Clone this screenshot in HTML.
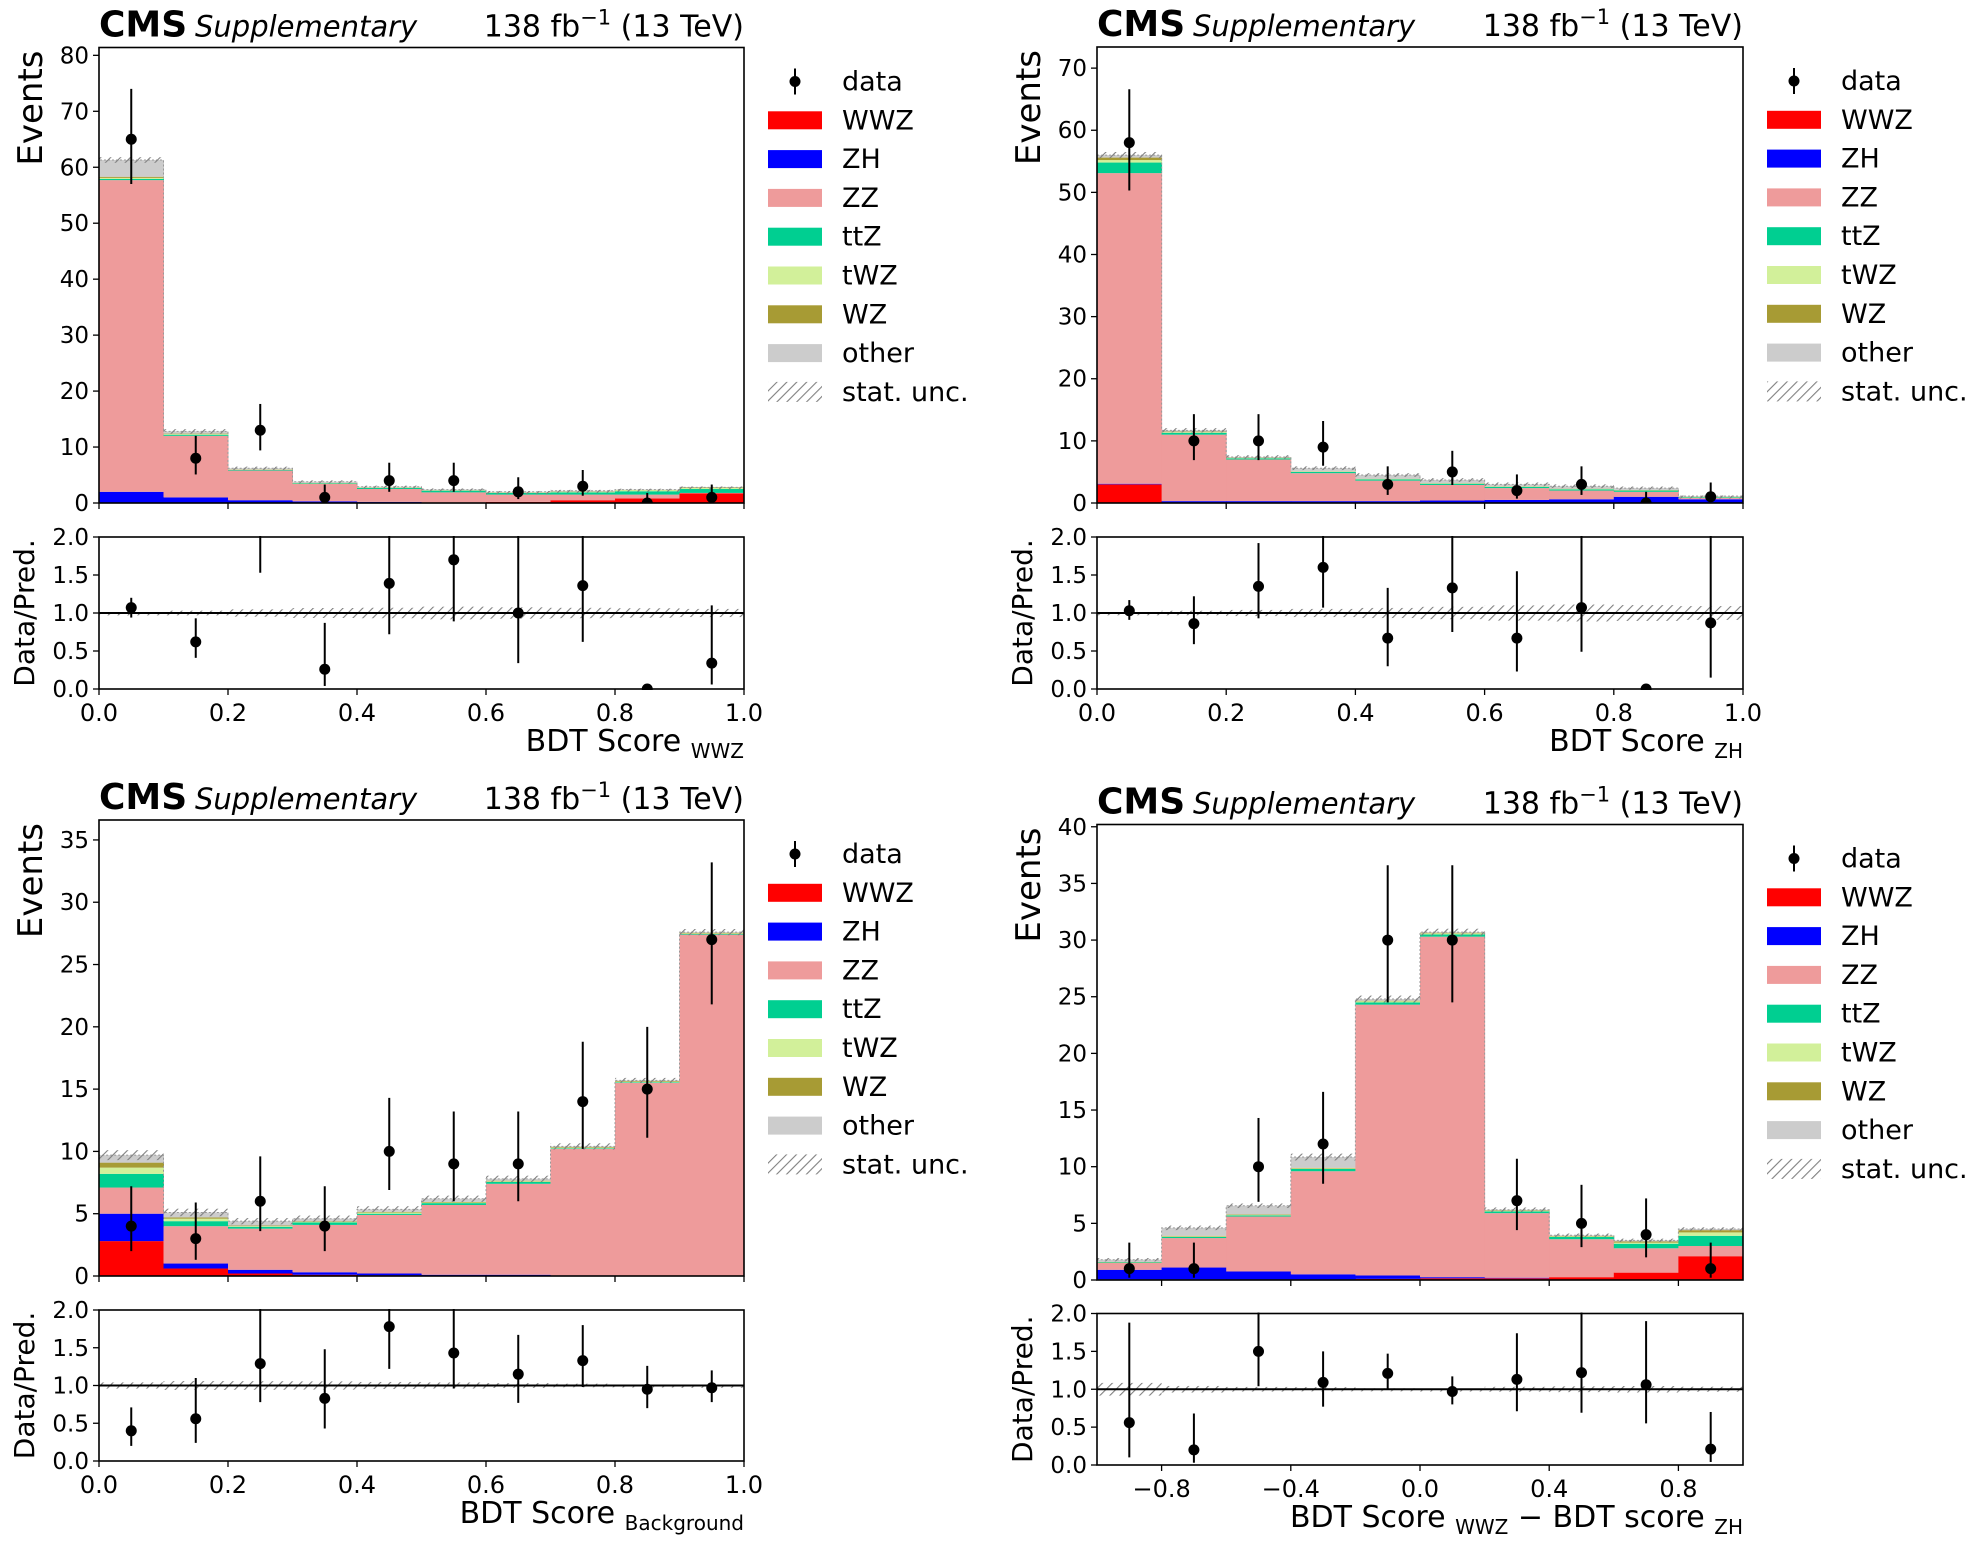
<!DOCTYPE html>
<html><head><meta charset="utf-8"><style>
html,body{margin:0;padding:0;background:#fff;}
svg{display:block;}
text{font-family:"DejaVu Sans","Liberation Sans",sans-serif;fill:#000;}
</style></head><body>
<svg id="fig" width="1982" height="1544" viewBox="0 0 1982 1544" xmlns="http://www.w3.org/2000/svg">
<defs>
<pattern id="hatch" patternUnits="userSpaceOnUse" width="7" height="7" patternTransform="rotate(45)">
<line x1="0" y1="0" x2="0" y2="7" stroke="#808080" stroke-width="2.2"/>
</pattern>
</defs>
</svg>
<script>
// ---------- data ----------
const procNames = ["WWZ","ZH","ZZ","ttZ","tWZ","WZ","other"];
const procColors = ["#ff0000","#0000ff","#ee9b9b","#00cf91","#d2f09a","#a79b34","#cccccc"];

// Panel A: BDT score WWZ
const aWWZ = [0,0,0,0,0.1,0.1,0.2,0.5,0.8,1.7];
const aZH = [2,1,0.5,0.3,0.1,0,0,0,0,0];
const aZZ = [55.7,11,5.3,3.1,2.3,1.8,1.3,1.0,0.7,0.1];
const attZ = [0.2,0.2,0.1,0.1,0.2,0.3,0.3,0.4,0.6,0.7];
const atWZ = [0.2,0.1,0.05,0.05,0.05,0.05,0.05,0.1,0.2,0.2];
const aWZ = [0.2,0.1,0.05,0.05,0.05,0.05,0.05,0.05,0.05,0.1];
const aOther = [3.0,0.4,0.2,0.2,0.1,0.1,0.1,0.15,0.05,0.0];
const aUnc = [0.5,0.4,0.3,0.25,0.2,0.2,0.15,0.15,0.15,0.15];
const aData = [65,8,13,1,4,4,2,3,0,1];
const aDataLo = [57,5.1,9.4,0.2,2,2,0.7,1.3,0,0.2];
const aDataHi = [74,12,17.7,3.3,7.2,7.2,4.6,5.9,1.8,3.3];
const aRatio = [1.07,0.62,2.13,0.26,1.39,1.70,1.0,1.36,0,0.34];
const aRatioLo = [0.94,0.41,1.53,0.04,0.72,0.89,0.34,0.62,0,0.06];
const aRatioHi = [1.2,0.93,2.8,0.87,2.4,2.9,2.3,2.6,0,1.1];
const aYTicks = [0,10,20,30,40,50,60,70,80];

// Panel B: BDT score ZH
const bWWZ = [3.0,0,0,0,0,0,0,0,0,0];
const bZH = [0.1,0.3,0.3,0.3,0.3,0.4,0.5,0.6,1.0,0.6];
const bZZ = [50,10.7,6.7,4.5,3.3,2.5,1.9,1.4,0.8,0.2];
const bttZ = [1.7,0.3,0.2,0.2,0.2,0.2,0.2,0.2,0.2,0.1];
const btWZ = [0.4,0.1,0.05,0.05,0.05,0.05,0.05,0.05,0.05,0.05];
const bWZ = [0.4,0.1,0.05,0.05,0.05,0.05,0.05,0.05,0.05,0.05];
const bOther = [0.4,0.2,0.1,0.5,0.6,0.5,0.3,0.4,0.3,0.1];
const bUnc = [0.5,0.35,0.3,0.3,0.3,0.3,0.3,0.3,0.25,0.1];
const bData = [58,10,10,9,3,5,2,3,0,1];
const bDataLo = [50.3,6.9,6.9,6,1.3,2.9,0.7,1.3,0,0.2];
const bDataHi = [66.6,14.3,14.3,13.2,5.9,8.4,4.6,5.9,1.8,3.3];
const bRatio = [1.03,0.86,1.35,1.6,0.67,1.33,0.67,1.07,0,0.87];
const bRatioLo = [0.91,0.59,0.93,1.07,0.3,0.75,0.23,0.49,0,0.15];
const bRatioHi = [1.17,1.22,1.92,2.3,1.33,2.2,1.55,2.1,0,2.9];
const bYTicks = [0,10,20,30,40,50,60,70];

// Panel C: BDT score Background
const cWWZ = [2.8,0.6,0.2,0.1,0.05,0,0,0,0,0];
const cZH = [2.2,0.4,0.3,0.2,0.15,0.1,0.1,0.05,0,0];
const cZZ = [2.1,3.0,3.3,3.8,4.7,5.6,7.3,10.15,15.5,27.4];
const cttZ = [1.1,0.4,0.15,0.2,0.1,0.15,0.15,0.05,0.05,0.05];
const ctWZ = [0.5,0.2,0.05,0.05,0.1,0.05,0.05,0.05,0.05,0.05];
const cWZ = [0.4,0.1,0.05,0.05,0.05,0.05,0.05,0.05,0.05,0.05];
const cOther = [0.6,0.4,0.35,0.2,0.2,0.25,0.15,0.05,0.05,0.05];
const cUnc = [0.4,0.3,0.25,0.25,0.25,0.25,0.25,0.25,0.2,0.25];
const cData = [4,3,6,4,10,9,9,14,15,27];
const cDataLo = [2,1.3,3.6,2,6.9,6,6,10.2,11.1,21.8];
const cDataHi = [7.2,5.9,9.6,7.2,14.3,13.2,13.2,18.8,20,33.2];
const cRatio = [0.4,0.56,1.29,0.83,1.78,1.43,1.15,1.33,0.95,0.97];
const cRatioLo = [0.2,0.24,0.78,0.43,1.22,0.96,0.77,0.98,0.7,0.78];
const cRatioHi = [0.71,1.1,2.05,1.48,2.5,2.1,1.67,1.8,1.26,1.2];
const cYTicks = [0,5,10,15,20,25,30,35];

// Panel D: BDT WWZ - BDT ZH
const dWWZ = [0.05,0.05,0.05,0.05,0.1,0.15,0.15,0.25,0.65,2.1];
const dZH = [0.85,1.05,0.7,0.45,0.3,0.1,0.05,0,0,0];
const dZZ = [0.6,2.6,4.85,9.1,23.9,30.05,5.7,3.35,2.15,0.9];
const dttZ = [0.05,0.1,0.1,0.2,0.2,0.2,0.15,0.2,0.4,0.9];
const dtWZ = [0.02,0.05,0.05,0.05,0.1,0.1,0.05,0.05,0.1,0.3];
const dWZ = [0.02,0.05,0.05,0.05,0.05,0.05,0.05,0.05,0.1,0.2];
const dOther = [0.2,0.7,0.75,0.95,0.15,0.05,0.05,0.05,0.1,0.1];
const dUnc = [0.15,0.2,0.2,0.3,0.3,0.3,0.2,0.15,0.15,0.15];
const dData = [1,1,10,12,30,30,7,5,4,1];
const dDataLo = [0.2,0.2,6.9,8.5,24.5,24.5,4.4,2.9,2,0.2];
const dDataHi = [3.3,3.3,14.3,16.6,36.6,36.6,10.7,8.4,7.2,3.3];
const dRatio = [0.56,0.2,1.5,1.09,1.21,0.97,1.13,1.22,1.06,0.21];
const dRatioLo = [0.1,0.03,1.04,0.77,1.0,0.8,0.71,0.69,0.55,0.04];
const dRatioHi = [1.88,0.68,2.1,1.5,1.47,1.17,1.74,2.05,1.9,0.7];
const dYTicks = [0,5,10,15,20,25,30,35,40];

const xTicks01 = [0.0,0.2,0.4,0.6,0.8,1.0];
const xTickLabels01 = ["0.0","0.2","0.4","0.6","0.8","1.0"];
const xTicksDiff = [-0.8,-0.4,0.0,0.4,0.8];
const xTickLabelsDiff = ["\u22120.8","\u22120.4","0.0","0.4","0.8"];
const ratioTicks = [0,0.5,1,1.5,2];
const ratioTickLabels = ["0.0","0.5","1.0","1.5","2.0"];

// ---------- drawing ----------
const NS = "http://www.w3.org/2000/svg";
const svg = document.getElementById("fig");
function mk(parent, tag, attrs, name, inter) {
  const el = document.createElementNS(NS, tag);
  for (const k in attrs) el.setAttribute(k, attrs[k]);
  
  
  parent.appendChild(el);
  return el;
}

const panels = [
  {id:"wwz", x0:99, x1:744, yt:47.5, yb:503, rt:537, rb:689, xmin:0, xmax:1, ymax:81.4, yTicks:aYTicks,
   comps:[aWWZ,aZH,aZZ,attZ,atWZ,aWZ,aOther], unc:aUnc, data:aData, lo:aDataLo, hi:aDataHi,
   ratio:aRatio, rlo:aRatioLo, rhi:aRatioHi, xt:xTicks01, xtl:xTickLabels01, xlabel:"BDT Score ", xsub:"WWZ"},
  {id:"zh", x0:1097, x1:1743, yt:47, yb:503, rt:537, rb:689, xmin:0, xmax:1, ymax:73.4, yTicks:bYTicks,
   comps:[bWWZ,bZH,bZZ,bttZ,btWZ,bWZ,bOther], unc:bUnc, data:bData, lo:bDataLo, hi:bDataHi,
   ratio:bRatio, rlo:bRatioLo, rhi:bRatioHi, xt:xTicks01, xtl:xTickLabels01, xlabel:"BDT Score ", xsub:"ZH"},
  {id:"background", x0:99, x1:744, yt:820, yb:1276, rt:1310, rb:1461, xmin:0, xmax:1, ymax:36.6, yTicks:cYTicks,
   comps:[cWWZ,cZH,cZZ,cttZ,ctWZ,cWZ,cOther], unc:cUnc, data:cData, lo:cDataLo, hi:cDataHi,
   ratio:cRatio, rlo:cRatioLo, rhi:cRatioHi, xt:xTicks01, xtl:xTickLabels01, xlabel:"BDT Score ", xsub:"Background"},
  {id:"diff", x0:1097, x1:1743, yt:824.5, yb:1280, rt:1313.5, rb:1465, xmin:-1, xmax:1, ymax:40.2, yTicks:dYTicks,
   comps:[dWWZ,dZH,dZZ,dttZ,dtWZ,dWZ,dOther], unc:dUnc, data:dData, lo:dDataLo, hi:dDataHi,
   ratio:dRatio, rlo:dRatioLo, rhi:dRatioHi, xt:xTicksDiff, xtl:xTickLabelsDiff, xlabel:"BDT Score ", xsub:"WWZ", xlabel2:"  \u2212  BDT score ", xsub2:"ZH"}
];

panels.forEach((P, pi) => {
  const g = mk(svg, "g", {}, "panel-" + P.id, false);
  const n = P.data.length;
  const sx = v => P.x0 + (v - P.xmin) / (P.xmax - P.xmin) * (P.x1 - P.x0);
  const sy = v => P.yb - v / P.ymax * (P.yb - P.yt);
  const ry = v => P.rb - v / 2 * (P.rb - P.rt);
  const bw = (P.xmax - P.xmin) / n;

  const clipM = mk(svg.querySelector("defs"), "clipPath", {id:"cm"+pi}, "main-clip", false);
  mk(clipM, "rect", {x:P.x0, y:P.yt, width:P.x1-P.x0, height:P.yb-P.yt}, "main-clip-rect", false);
  const clipR = mk(svg.querySelector("defs"), "clipPath", {id:"cr"+pi}, "ratio-clip", false);
  mk(clipR, "rect", {x:P.x0, y:P.rt-1, width:P.x1-P.x0, height:P.rb-P.rt+2}, "ratio-clip-rect", false);

  // main stack
  const gm = mk(g, "g", {"clip-path":"url(#cm"+pi+")"}, "main-plot-area", false);
  const totals = [];
  for (let i = 0; i < n; i++) {
    let cum = 0;
    const xa = sx(P.xmin + i*bw), xb = sx(P.xmin + (i+1)*bw);
    for (let k = 0; k < P.comps.length; k++) {
      const h = P.comps[k][i];
      if (h > 0) {
        mk(gm, "rect", {x:xa, y:sy(cum+h), width:xb-xa+0.5, height:sy(cum)-sy(cum+h), fill:procColors[k]}, "stack-" + procNames[k] + "-bin" + (i+1), false);
      }
      cum += h;
    }
    totals.push(cum);
  }
  let d = "M" + sx(P.xmin) + "," + sy(0);
  for (let i = 0; i < n; i++) {
    d += " L" + sx(P.xmin+i*bw) + "," + sy(totals[i]) + " L" + sx(P.xmin+(i+1)*bw) + "," + sy(totals[i]);
  }
  d += " L" + sx(P.xmax) + "," + sy(0);
  mk(gm, "path", {d:d, fill:"none", stroke:"#999", "stroke-width":1, "stroke-dasharray":"2,2"}, "stack-outline", false);
  for (let i = 0; i < n; i++) {
    const xa = sx(P.xmin + i*bw), xb = sx(P.xmin + (i+1)*bw);
    mk(gm, "rect", {x:xa, y:sy(totals[i]+P.unc[i]), width:xb-xa, height:Math.max(3, sy(totals[i]-P.unc[i])-sy(totals[i]+P.unc[i])), fill:"url(#hatch)"}, "stat-unc-bin" + (i+1), false);
  }
  for (let i = 0; i < n; i++) {
    const cx = sx(P.xmin + (i+0.5)*bw);
    mk(gm, "line", {x1:cx, x2:cx, y1:sy(P.lo[i]), y2:sy(P.hi[i]), stroke:"#000", "stroke-width":2}, "data-errorbar-bin" + (i+1), false);
    mk(gm, "circle", {cx:cx, cy:sy(P.data[i]), r:5.5, fill:"#000"}, "data-point-bin" + (i+1), false);
  }
  mk(g, "rect", {x:P.x0, y:P.yt, width:P.x1-P.x0, height:P.yb-P.yt, fill:"none", stroke:"#000", "stroke-width":1.6}, "main-axes-frame", false);
  P.yTicks.forEach(t => {
    mk(g, "line", {x1:P.x0-6, x2:P.x0, y1:sy(t), y2:sy(t), stroke:"#000", "stroke-width":1.3}, "y-tick", false);
    const tx = mk(g, "text", {x:P.x0-10, y:sy(t)+8, "text-anchor":"end", "font-size":23}, "y-tick-label", false);
    tx.textContent = String(t);
  });
  P.xt.forEach(t => {
    mk(g, "line", {x1:sx(t), x2:sx(t), y1:P.yb, y2:P.yb+6, stroke:"#000", "stroke-width":1.3}, "x-tick-main", false);
  });
  const cms = mk(g, "text", {x:P.x0, y:P.yt-11, "font-size":36, "font-weight":"bold"}, "cms-label", false);
  cms.textContent = "CMS";
  const sup = mk(g, "text", {x:P.x0+96, y:P.yt-11, "font-size":29, "font-style":"italic"}, "supplementary-label", false);
  sup.textContent = "Supplementary";
  const lumi = mk(g, "text", {x:P.x1, y:P.yt-11, "font-size":30, "text-anchor":"end"}, "lumi-label", false);
  lumi.innerHTML = '138 fb<tspan dy="-12" font-size="21">\u22121</tspan><tspan dy="12"> (13 TeV)</tspan>';
  const ev = mk(g, "text", {transform:"translate(" + (P.x0-57) + "," + (P.yt+3) + ") rotate(-90)", "font-size":34, "text-anchor":"end"}, "y-axis-title", false);
  ev.textContent = "Events";

  const gr = mk(g, "g", {"clip-path":"url(#cr"+pi+")"}, "ratio-plot-area", false);
  for (let i = 0; i < n; i++) {
    const xa = sx(P.xmin + i*bw), xb = sx(P.xmin + (i+1)*bw);
    const r = P.unc[i] / totals[i];
    mk(gr, "rect", {x:xa, y:ry(1+r), width:xb-xa, height:Math.max(3, ry(1-r)-ry(1+r)), fill:"url(#hatch)"}, "ratio-unc-bin" + (i+1), false);
  }
  mk(gr, "line", {x1:P.x0, x2:P.x1, y1:ry(1), y2:ry(1), stroke:"#000", "stroke-width":2}, "ratio-unity-line", false);
  for (let i = 0; i < n; i++) {
    const cx = sx(P.xmin + (i+0.5)*bw);
    if (P.rhi[i] > P.rlo[i]) {
      mk(gr, "line", {x1:cx, x2:cx, y1:ry(P.rlo[i]), y2:ry(P.rhi[i]), stroke:"#000", "stroke-width":2}, "ratio-errorbar-bin" + (i+1), false);
    }
    mk(gr, "circle", {cx:cx, cy:ry(P.ratio[i]), r:5.5, fill:"#000"}, "ratio-point-bin" + (i+1), false);
  }
  mk(g, "rect", {x:P.x0, y:P.rt, width:P.x1-P.x0, height:P.rb-P.rt, fill:"none", stroke:"#000", "stroke-width":1.6}, "ratio-axes-frame", false);
  ratioTicks.forEach((t, j) => {
    mk(g, "line", {x1:P.x0-6, x2:P.x0, y1:ry(t), y2:ry(t), stroke:"#000", "stroke-width":1.3}, "ratio-y-tick", false);
    const tx = mk(g, "text", {x:P.x0-10, y:ry(t)+8, "text-anchor":"end", "font-size":23}, "ratio-y-tick-label", false);
    tx.textContent = ratioTickLabels[j];
  });
  P.xt.forEach((t, j) => {
    mk(g, "line", {x1:sx(t), x2:sx(t), y1:P.rb, y2:P.rb+6, stroke:"#000", "stroke-width":1.3}, "x-tick", false);
    const tx = mk(g, "text", {x:sx(t), y:P.rb+32, "text-anchor":"middle", "font-size":24}, "x-tick-label", false);
    tx.textContent = P.xtl[j];
  });
  const rl = mk(g, "text", {transform:"translate(" + (P.x0-65) + "," + ((P.rt+P.rb)/2) + ") rotate(-90)", "font-size":28, "text-anchor":"middle"}, "ratio-y-axis-title", false);
  rl.textContent = "Data/Pred.";
  const xl = mk(g, "text", {x:P.x1, y:P.rb+62, "text-anchor":"end", "font-size":30}, "x-axis-title", false);
  let html = P.xlabel + '<tspan dy="7" font-size="20">' + P.xsub + '</tspan>';
  if (P.xlabel2) html += '<tspan dy="-7">' + P.xlabel2 + '</tspan><tspan dy="7" font-size="20">' + P.xsub2 + '</tspan>';
  xl.innerHTML = html;

  const lg = mk(g, "g", {}, "legend", false);
  const lx = P.x1 + 24, ty = P.yt + 34, sp = 38.8;
  const le0 = mk(lg, "g", {}, "legend-entry-data", false);
  mk(le0, "line", {x1:lx+27, x2:lx+27, y1:ty-13, y2:ty+13, stroke:"#000", "stroke-width":2}, "legend-data-bar", false);
  mk(le0, "circle", {cx:lx+27, cy:ty, r:5.5, fill:"#000"}, "legend-data-marker", false);
  const t0 = mk(le0, "text", {x:lx+74, y:ty+9, "font-size":27}, "legend-label", false);
  t0.textContent = "data";
  procNames.forEach((nm, k) => {
    const yy = ty + sp*(k+1);
    const le = mk(lg, "g", {}, "legend-entry-" + nm, false);
    mk(le, "rect", {x:lx, y:yy-9, width:54, height:18, fill:procColors[k]}, "legend-swatch", false);
    const t = mk(le, "text", {x:lx+74, y:yy+9, "font-size":27}, "legend-label", false);
    t.textContent = nm;
  });
  const yy = ty + sp*8;
  const le8 = mk(lg, "g", {}, "legend-entry-stat-unc", false);
  mk(le8, "rect", {x:lx, y:yy-10, width:54, height:20, fill:"url(#hatch)"}, "legend-swatch", false);
  const t8 = mk(le8, "text", {x:lx+74, y:yy+9, "font-size":27}, "legend-label", false);
  t8.textContent = "stat. unc.";
});
</script>
</body></html>
